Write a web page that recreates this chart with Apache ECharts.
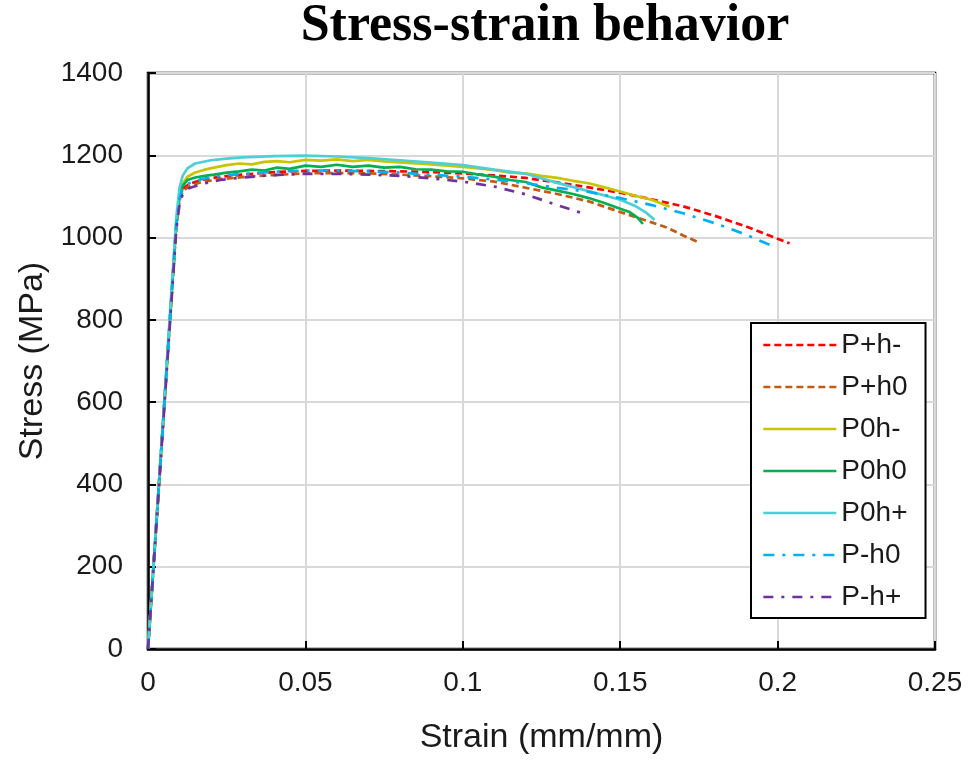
<!DOCTYPE html>
<html>
<head>
<meta charset="utf-8">
<title>Stress-strain behavior</title>
<script src="https://cdn.jsdelivr.net/npm/echarts@6/dist/echarts.min.js"></script>
<style>
  html, body { margin: 0; padding: 0; background: #fff; }
  #chart { width: 968px; height: 762px; }
</style>
</head>
<body>
<div id="chart"></div>
<script>
// Tensile test curves: [strain (mm/mm), stress (MPa)]
const seriesNames = ['P+h-', 'P+h0', 'P0h-', 'P0h0', 'P0h+', 'P-h0', 'P-h+'];

const pPlusHMinus = [
  [0, 0], [0.0030, 345], [0.0060, 690], [0.0090, 1030], [0.0100, 1095], [0.0110, 1118],
  [0.0130, 1130], [0.0170, 1140], [0.0230, 1148], [0.0300, 1153], [0.0400, 1159],
  [0.0500, 1162], [0.0600, 1163], [0.0700, 1162], [0.0800, 1161], [0.0900, 1159],
  [0.1000, 1156], [0.1100, 1151], [0.1200, 1145], [0.1300, 1134], [0.1400, 1122],
  [0.1500, 1109], [0.1600, 1093], [0.1700, 1076], [0.1800, 1053], [0.1900, 1027],
  [0.1980, 1003], [0.2038, 986]
];

const pPlusH0 = [
  [0, 0], [0.0030, 345], [0.0060, 690], [0.0090, 1030], [0.0100, 1090], [0.0110, 1112],
  [0.0130, 1125], [0.0170, 1135], [0.0230, 1142], [0.0300, 1147], [0.0400, 1152],
  [0.0500, 1156], [0.0600, 1157], [0.0700, 1156], [0.0800, 1153], [0.0900, 1149],
  [0.1000, 1144], [0.1100, 1136], [0.1200, 1121], [0.1300, 1106], [0.1400, 1088],
  [0.1500, 1062], [0.1600, 1037], [0.1650, 1024], [0.1700, 1005], [0.1745, 990]
];

const p0HMinus = [
  [0, 0], [0.0030, 345], [0.0060, 690], [0.0090, 1035], [0.0100, 1100], [0.0110, 1130],
  [0.0125, 1148], [0.0150, 1158], [0.0180, 1165], [0.0210, 1170], [0.0250, 1176],
  [0.0290, 1180], [0.0330, 1178], [0.0370, 1184], [0.0410, 1186], [0.0450, 1183],
  [0.0500, 1189], [0.0550, 1187], [0.0600, 1190], [0.0650, 1186], [0.0700, 1189],
  [0.0750, 1185], [0.0800, 1183], [0.0850, 1180], [0.0900, 1178], [0.0950, 1175],
  [0.1000, 1172], [0.1050, 1168], [0.1100, 1164], [0.1150, 1158], [0.1200, 1156],
  [0.1250, 1150], [0.1300, 1145], [0.1350, 1138], [0.1400, 1132], [0.1450, 1122],
  [0.1500, 1112], [0.1550, 1101], [0.1600, 1092], [0.1657, 1075]
];

const p0H0 = [
  [0, 0], [0.0030, 345], [0.0060, 690], [0.0090, 1035], [0.0100, 1098], [0.0110, 1125],
  [0.0125, 1140], [0.0150, 1146], [0.0180, 1150], [0.0210, 1153], [0.0250, 1158],
  [0.0290, 1161], [0.0330, 1165], [0.0370, 1163], [0.0410, 1170], [0.0450, 1167],
  [0.0500, 1175], [0.0550, 1172], [0.0600, 1177], [0.0650, 1172], [0.0700, 1175],
  [0.0750, 1170], [0.0800, 1172], [0.0850, 1166], [0.0900, 1165], [0.0950, 1161],
  [0.1000, 1160], [0.1050, 1153], [0.1100, 1148], [0.1150, 1140], [0.1200, 1135],
  [0.1250, 1122], [0.1300, 1114], [0.1350, 1106], [0.1400, 1096], [0.1450, 1084],
  [0.1500, 1070], [0.1530, 1062], [0.1556, 1048], [0.1572, 1033]
];

const p0HPlus = [
  [0, 0], [0.0030, 350], [0.0060, 700], [0.0090, 1050], [0.0100, 1120], [0.0110, 1150],
  [0.0125, 1168], [0.0150, 1180], [0.0200, 1188], [0.0250, 1192], [0.0300, 1195],
  [0.0400, 1198], [0.0500, 1199], [0.0600, 1197], [0.0700, 1193], [0.0800, 1188],
  [0.0900, 1182], [0.1000, 1176], [0.1100, 1165], [0.1200, 1155], [0.1300, 1133],
  [0.1400, 1113], [0.1500, 1092], [0.1550, 1076], [0.1580, 1062], [0.1609, 1043]
];

const pMinusH0 = [
  [0, 0], [0.0030, 345], [0.0060, 690], [0.0090, 1030], [0.0100, 1095], [0.0110, 1118],
  [0.0130, 1132], [0.0170, 1142], [0.0230, 1150], [0.0300, 1155], [0.0400, 1160],
  [0.0500, 1163], [0.0600, 1163], [0.0700, 1161], [0.0800, 1158], [0.0900, 1153],
  [0.1000, 1148], [0.1100, 1141], [0.1200, 1132], [0.1300, 1121], [0.1400, 1111],
  [0.1500, 1096], [0.1600, 1079], [0.1700, 1059], [0.1800, 1035], [0.1900, 1007],
  [0.1985, 979]
];

const pMinusHPlus = [
  [0, 0], [0.0030, 340], [0.0060, 680], [0.0090, 1020], [0.0100, 1080], [0.0110, 1105],
  [0.0130, 1120], [0.0170, 1130], [0.0230, 1140], [0.0300, 1146], [0.0400, 1152],
  [0.0500, 1155], [0.0600, 1155], [0.0700, 1153], [0.0800, 1150], [0.0900, 1144],
  [0.1000, 1136], [0.1100, 1124], [0.1200, 1105], [0.1300, 1079], [0.1381, 1059]
];

const seriesData = [pPlusHMinus, pPlusH0, p0HMinus, p0H0, p0HPlus, pMinusH0, pMinusHPlus];
const seriesColors = ['#ff0000', '#c55a11', '#c8c400', '#00b050', '#4dcfd6', '#00b0f0', '#7030a0'];
const seriesDash = [[7, 4], [7, 4], 'solid', 'solid', 'solid', [11, 8, 3, 8], [10, 8, 3, 8]];

const sansFont = '"Liberation Sans", Arial, sans-serif';

const chart = echarts.init(document.getElementById('chart'), null, { renderer: 'canvas' });

chart.setOption({
  animation: false,
  backgroundColor: '#ffffff',
  title: {
    text: 'Stress-strain behavior',
    left: 540,
    top: -4,
    textAlign: 'center',
    textStyle: {
      fontFamily: '"Liberation Serif", "Times New Roman", serif',
      fontWeight: 'bold',
      fontSize: 52,
      color: '#000'
    }
  },
  grid: {
    left: 148, right: 33, top: 73, bottom: 113,
    show: true, borderColor: '#000', borderWidth: 2.5, backgroundColor: 'transparent'
  },
  legend: {
    orient: 'vertical',
    left: 751,
    top: 323,
    padding: [7, 18, 6, 11],
    itemWidth: 73,
    itemHeight: 14,
    itemGap: 12,
    // line samples only, no marker dot on them
    itemStyle: { opacity: 0 },
    lineStyle: { width: 2.7 },
    selectedMode: false,
    backgroundColor: '#fff',
    borderColor: '#000',
    borderWidth: 2,
    data: seriesNames,
    textStyle: { fontFamily: sansFont, fontSize: 28, lineHeight: 30, color: '#1a1a1a' }
  },
  xAxis: {
    type: 'value',
    min: 0, max: 0.25, interval: 0.05,
    name: 'Strain (mm/mm)',
    nameLocation: 'middle',
    nameGap: 72,
    nameTextStyle: { fontFamily: sansFont, fontSize: 34, color: '#1a1a1a' },
    axisLine: { show: true, lineStyle: { color: '#000', width: 2.5 } },
    axisTick: { show: true, inside: true, length: 8, lineStyle: { color: '#000', width: 2 } },
    axisLabel: { fontFamily: sansFont, fontSize: 28, color: '#1a1a1a', margin: 20,
      formatter: (v) => String(v) },
    splitLine: { show: true, lineStyle: { color: '#d9d9d9', width: 2 } }
  },
  yAxis: {
    type: 'value',
    min: 0, max: 1400, interval: 200,
    name: 'Stress (MPa)',
    nameLocation: 'middle',
    nameGap: 92,
    nameTextStyle: { fontFamily: sansFont, fontSize: 34, color: '#1a1a1a' },
    axisLine: { show: true, lineStyle: { color: '#000', width: 2.5 } },
    axisTick: { show: true, inside: true, length: 8, lineStyle: { color: '#000', width: 2 } },
    axisLabel: { fontFamily: sansFont, fontSize: 28, color: '#1a1a1a', margin: 25,
      formatter: (v) => String(v) },
    splitLine: { show: true, lineStyle: { color: '#d9d9d9', width: 2 } }
  },
  series: seriesNames.map((name, i) => ({
    name: name,
    type: 'line',
    data: seriesData[i],
    showSymbol: false,
    symbol: 'none',
    smooth: false,
    color: seriesColors[i],
    lineStyle: { color: seriesColors[i], width: 2.7, type: seriesDash[i], cap: 'butt' },
    emphasis: { disabled: true }
  }))
});
</script>
</body>
</html>
